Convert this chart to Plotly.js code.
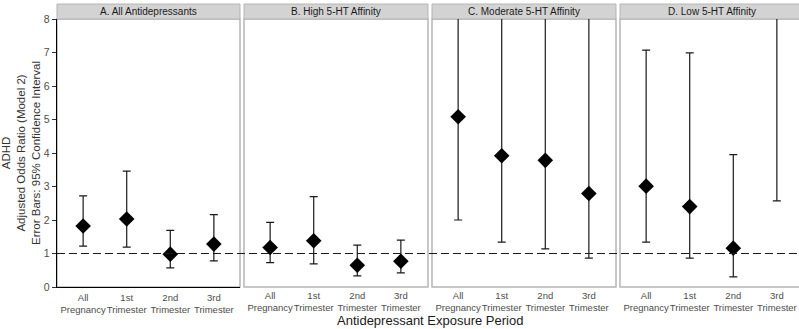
<!DOCTYPE html>
<html>
<head>
<meta charset="utf-8">
<script src="https://cdn.plot.ly/plotly-3.0.1.min.js"></script>
<style>html,body{margin:0;padding:0;background:#fff;}#chart{width:799px;height:329px;}</style>
</head>
<body>
<div id="chart"></div>
<script>
// ---- Data ----
const periods = ["All Pregnancy", "1st Trimester", "2nd Trimester", "3rd Trimester"];
const periodLabels = ["All<br>Pregnancy", "1st<br>Trimester", "2nd<br>Trimester", "3rd<br>Trimester"];
const panelTitles = ["A. All Antidepressants", "B. High 5-HT Affinity", "C. Moderate 5-HT Affinity", "D. Low 5-HT Affinity"];

// Adjusted odds ratios (Model 2)
const orAll      = [1.82, 2.03, 0.98, 1.28];
const orHigh     = [1.18, 1.38, 0.65, 0.77];
const orModerate = [5.08, 3.92, 3.78, 2.79];
const orLow      = [3.01, 2.40, 1.16, 9.50];   // last point lies above the plotted range (estimate)

// 95% CI lower bounds
const loAll      = [1.22, 1.19, 0.57, 0.78];
const loHigh     = [0.73, 0.69, 0.33, 0.42];
const loModerate = [2.00, 1.34, 1.14, 0.86];
const loLow      = [1.34, 0.86, 0.30, 2.57];

// 95% CI upper bounds (values above 8 are off the chart; estimated)
const hiAll      = [2.72, 3.46, 1.69, 2.16];
const hiHigh     = [1.93, 2.70, 1.25, 1.40];
const hiModerate = [12.8, 11.4, 12.6, 9.0];
const hiLow      = [7.07, 6.99, 3.95, 35.0];

const yTicks = [0, 1, 2, 3, 4, 5, 6, 7, 8];
const referenceOR = 1;

// ---- Build ----
const ors = [orAll, orHigh, orModerate, orLow];
const los = [loAll, loHigh, loModerate, loLow];
const his = [hiAll, hiHigh, hiModerate, hiLow];
const xIds = ["x", "x2", "x3", "x4"];
const axNames = ["xaxis", "xaxis2", "xaxis3", "xaxis4"];

const W = 799, H = 329;
const panelPx = [[57, 240], [244, 428], [432, 616], [620, 799]];
const domains = panelPx.map(p => [p[0] / W, p[1] / W]);
const unitPx = 183 / 4.2;

const ink = "#1a1a1a";
const traces = ors.map((vals, i) => ({
  type: "scatter",
  mode: "markers",
  x: periods,
  y: vals,
  xaxis: xIds[i],
  yaxis: "y",
  cliponaxis: true,
  marker: {symbol: "diamond", size: 12, color: "#000"},
  error_y: {
    type: "data",
    symmetric: false,
    array: vals.map((v, k) => his[i][k] - v),
    arrayminus: vals.map((v, k) => v - los[i][k]),
    color: ink,
    thickness: 1.2,
    width: 4
  },
  hoverinfo: "x+y",
  showlegend: false
}));

const layout = {
  width: W, height: H,
  margin: {l: 0, r: 0, t: 19, b: 42},
  paper_bgcolor: "#fff",
  plot_bgcolor: "rgba(0,0,0,0)",
  font: {family: "Liberation Sans, Arial, sans-serif", color: "#4d4d4d", size: 10},
  yaxis: {
    range: [0, 8],
    tickvals: yTicks,
    ticktext: yTicks.map(String),
    showgrid: false, zeroline: false,
    showline: true, linecolor: "#000", linewidth: 1.2,
    ticks: "outside", ticklen: 4, tickcolor: "#333", tickwidth: 1,
    tickfont: {size: 10.5, color: "#4d4d4d"},
    anchor: "x",
    title: {
      text: "ADHD<br>Adjusted Odds Ratio (Model 2)<br>Error Bars: 95% Confidence Interval",
      font: {size: 11.5, color: "#333"},
      standoff: 3
    }
  },
  shapes: [],
  annotations: []
};

const plotH = H - 19 - 42;
const stripTop = 1 + 15 / plotH;

axNames.forEach((name, i) => {
  const widthPx = panelPx[i][1] - panelPx[i][0];
  layout[name] = {
    domain: domains[i],
    anchor: "y",
    range: [-0.6, -0.6 + widthPx / unitPx],
    type: "category",
    tickvals: periods,
    ticktext: periodLabels,
    tickangle: 0,
    showgrid: false, zeroline: false,
    showline: i === 0, linecolor: "#000", linewidth: 1.2,
    ticks: "",
    ticklabelstandoff: 1,
    tickfont: {size: 9.5, color: "#4d4d4d"},
    fixedrange: true
  };
  // panel border
  layout.shapes.push({
    type: "rect", xref: "paper", yref: "paper",
    x0: domains[i][0], x1: domains[i][1] + (i === 3 ? 0.01 : 0), y0: 0, y1: 1,
    line: {color: "#b5b5b5", width: 1.5}, fillcolor: "rgba(0,0,0,0)", layer: "below"
  });
  // strip
  layout.shapes.push({
    type: "rect", xref: "paper", yref: "paper",
    x0: domains[i][0], x1: domains[i][1] + (i === 3 ? 0.01 : 0), y0: 1, y1: stripTop,
    line: {color: "#b5b5b5", width: 1}, fillcolor: "#d3d3d3", layer: "below"
  });
  layout.annotations.push({
    xref: "paper", yref: "paper",
    x: (panelPx[i][0] + (i === 3 ? panelPx[i][0] + 183 : panelPx[i][1])) / 2 / W,
    y: (1 + stripTop) / 2,
    text: panelTitles[i], showarrow: false,
    xanchor: "center", yanchor: "middle",
    font: {size: 10, color: "#1a1a1a"}
  });
});

// reference line at OR = 1 spanning all panels
layout.shapes.push({
  type: "line", xref: "paper", yref: "y",
  x0: domains[0][0], x1: 1, y0: referenceOR, y1: referenceOR,
  line: {color: "#1a1a1a", width: 1.2, dash: "8px,4px"}
});

layout.annotations.push({
  xref: "paper", yref: "paper",
  x: ((57 + 803) / 2) / W, y: (287 - 320) / plotH,
  text: "Antidepressant Exposure Period", showarrow: false,
  xanchor: "center", yanchor: "middle",
  font: {size: 13, color: "#1a1a1a"}
});

Plotly.newPlot("chart", traces, layout, {displayModeBar: false, staticPlot: true});
</script>
</body>
</html>
